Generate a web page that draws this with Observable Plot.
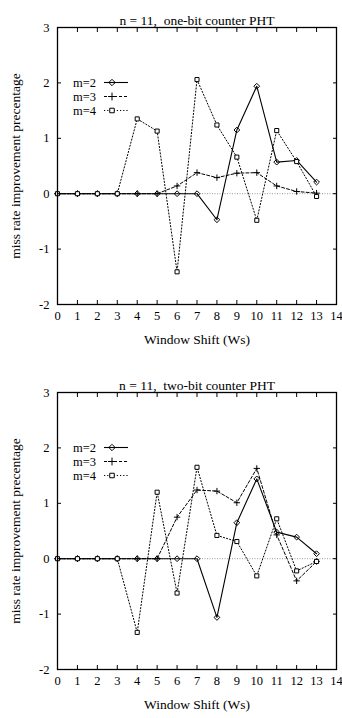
<!DOCTYPE html>
<html><head><meta charset="utf-8">
<script src="https://cdn.jsdelivr.net/npm/d3@7"></script>
<script src="https://cdn.jsdelivr.net/npm/@observablehq/plot@0.6"></script>
<style>body{margin:0;background:#fff} svg{display:block}</style>
</head><body><div id="c"></div>
<script>
// ---- data ----
const ws = [0,1,2,3,4,5,6,7,8,9,10,11,12,13];
const xTicks = [0,1,2,3,4,5,6,7,8,9,10,11,12,13,14];
const yTicks = [-2,-1,0,1,2,3];
const seriesNames = ["m=2","m=3","m=4"];
const titles = ["n = 11,  one-bit counter PHT", "n = 11,  two-bit counter PHT"];
const xLabel = "Window Shift (Ws)";
const yLabel = "miss rate improvement precentage";

const oneBitM2 = [0,0,0,0,0,0,0,0,-0.47,1.15,1.94,0.57,0.60,0.21];
const oneBitM3 = [0,0,0,0,0,0,0.14,0.38,0.29,0.37,0.38,0.14,0.04,0.01];
const oneBitM4 = [0,0,0,0,1.35,1.13,-1.41,2.06,1.24,0.66,-0.48,1.14,0.58,-0.05];

const twoBitM2 = [0,0,0,0,0,0,0,0,-1.06,0.65,1.44,0.48,0.39,0.09];
const twoBitM3 = [0,0,0,0,0,0,0.75,1.24,1.22,1.01,1.63,0.43,-0.40,-0.05];
const twoBitM4 = [0,0,0,0,-1.33,1.20,-0.62,1.65,0.42,0.31,-0.31,0.72,-0.22,-0.05];

// ---- styles ----
const FONT = "'Liberation Serif','Times New Roman',Times,serif";
const LABEL_SIZE = 13.5;
const TICK_SIZE = 12.5;
const styles = {
  "m=2": {dash: null, symbol: "diamond2", r: 2.6, fill: "none", sw: 1.1, size: 26},
  "m=3": {dash: "3,2", symbol: "plus", r: 2.2, fill: "none", sw: 1, size: 22},
  "m=4": {dash: "1.2,2", symbol: "square2", r: 2.6, fill: "white", sw: 1, size: 26}
};
const symMap = {"diamond2": d3.symbolDiamond2, "plus": d3.symbolPlus, "square2": d3.symbolSquare2};

function legendMark(index, scales, values, dims) {
  const g = d3.create("svg:g").attr("font-family", FONT).attr("font-size", TICK_SIZE);
  seriesNames.forEach((name, i) => {
    const st = styles[name];
    const y = dims.marginTop + 55.5 + i * 14;
    const x0 = dims.marginLeft;
    g.append("text").attr("x", x0 + 16).attr("y", y).attr("dy", "0.35em")
      .attr("text-anchor", "start").attr("fill", "black").text(name);
    g.append("line").attr("x1", x0 + 47).attr("x2", x0 + 71).attr("y1", y).attr("y2", y)
      .attr("stroke", "black").attr("stroke-width", st.sw)
      .attr("stroke-dasharray", st.dash);
    g.append("path").attr("transform", `translate(${x0 + 55},${y})`)
      .attr("d", d3.symbol(symMap[st.symbol], st.size)())
      .attr("fill", st.fill).attr("stroke", "black").attr("stroke-width", 1);
  });
  return g.node();
}

function chart(title, m2, m3, m4, height, marginBottom) {
  const vals = {"m=2": m2, "m=3": m3, "m=4": m4};
  const marks = [
    Plot.ruleY([0], {stroke: "#999", strokeDasharray: "1,1.5", strokeWidth: 1}),
  ];
  for (const name of seriesNames) {
    const st = styles[name];
    const data = ws.map((w, i) => ({w, v: vals[name][i]}));
    marks.push(Plot.line(data, {x: "w", y: "v", stroke: "black", strokeWidth: st.sw, strokeDasharray: st.dash}));
  }
  for (const name of seriesNames) {
    const st = styles[name];
    const data = ws.map((w, i) => ({w, v: vals[name][i]}));
    marks.push(Plot.dot(data, {x: "w", y: "v", symbol: () => st.symbol, r: st.r, stroke: "black", fill: st.fill, strokeWidth: 1}));
  }
  const fmt = d => String(d);
  marks.push(
    Plot.frame({stroke: "black", strokeWidth: 1.3}),
    Plot.axisX(xTicks, {anchor: "bottom", tickSize: -4, text: null, label: null}),
    Plot.axisX(xTicks, {anchor: "top", tickSize: -4, text: null, label: null}),
    Plot.axisY(yTicks, {anchor: "left", tickSize: -4, text: null, label: null}),
    Plot.axisY(yTicks, {anchor: "right", tickSize: -4, text: null, label: null}),
    Plot.axisX(xTicks, {anchor: "bottom", tickSize: 0, tickPadding: 7, fontSize: TICK_SIZE, label: null, tickFormat: fmt}),
    Plot.axisY(yTicks, {anchor: "left", tickSize: 0, tickPadding: 8, fontSize: TICK_SIZE, label: null, tickFormat: fmt}),
    Plot.text([title], {frameAnchor: "top", dy: -12, fontSize: LABEL_SIZE, textAnchor: "middle"}),
    Plot.text([xLabel], {frameAnchor: "bottom", dy: 39, fontSize: LABEL_SIZE, textAnchor: "middle"}),
    Plot.text([yLabel], {frameAnchor: "left", dx: -42, rotate: -90, fontSize: LABEL_SIZE, textAnchor: "middle"}),
    legendMark
  );
  return Plot.plot({
    width: 342, height,
    marginTop: 27, marginBottom, marginLeft: 57, marginRight: 6,
    x: {domain: [0, 14], label: null},
    y: {domain: [-2, 3], label: null},
    style: {fontFamily: FONT, fontSize: "12px", color: "black", background: "white"},
    marks
  });
}

const c = document.getElementById("c");
c.append(chart(titles[0], oneBitM2, oneBitM3, oneBitM4, 365, 61));
c.append(chart(titles[1], twoBitM2, twoBitM3, twoBitM4, 353, 49));
</script>
</body></html>
